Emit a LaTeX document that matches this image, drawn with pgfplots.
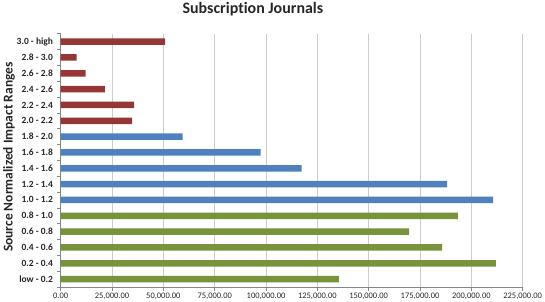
\documentclass[border=0pt]{standalone}
\usepackage{pgfplots}
\pgfplotsset{compat=1.18}
\usepackage{fontspec}
\setmainfont[Ligatures=NoCommon]{Carlito}
\definecolor{cred}{HTML}{953735}
\definecolor{cblue}{HTML}{4F81BD}
\definecolor{cgreen}{HTML}{77933C}
\definecolor{cgrid}{HTML}{CDCDCD}
\definecolor{caxis}{HTML}{868686}
\definecolor{ctext}{HTML}{262626}
\begin{document}
\begin{tikzpicture}
\useasboundingbox (0,0) rectangle (545bp,302bp);
\begin{axis}[
  at={(60.7bp,15bp)}, anchor=south west,
  scale only axis, width=462bp, height=253.3bp,
  xmin=0, xmax=225000, ymin=-0.5, ymax=15.5,
  axis x line*=bottom, axis y line*=left,
  axis line style={caxis, line width=0.6pt},
  xtick={0,25000,...,225000},
  xmajorgrids, major grid style={cgrid, line width=0.6pt},
  ytick={0,...,15},
  yticklabels={low - 0.2,0.2 - 0.4,0.4 - 0.6,0.6 - 0.8,0.8 - 1.0,1.0 - 1.2,1.2 - 1.4,1.4 - 1.6,1.6 - 1.8,1.8 - 2.0,2.0 - 2.2,2.2 - 2.4,2.4 - 2.6,2.6 - 2.8,2.8 - 3.0,3.0 - high},
  minor ytick={-0.5,0.5,...,15.5},
  y tick style={draw=none},
  minor y tick style={draw=caxis, line width=0.6pt},
  x tick style={draw=caxis, line width=0.6pt},
  tick align=outside, major tick length=3.5bp, minor tick length=3.5bp,
  yticklabel style={font=\fontsize{9.5}{11}\selectfont\bfseries, text=ctext, inner sep=0pt, xshift=-4bp},
  xticklabel style={font=\fontsize{8.5}{10}\selectfont, text=ctext, inner sep=0pt, yshift=-2bp},
  /pgf/number format/.cd, fixed, fixed zerofill, precision=2, 1000 sep={,}, assume math mode=true,
  /pgfplots/.cd,
  scaled x ticks=false,
  xbar, bar width=6.5bp,
  title={Subscription Journals},
  every axis title shift=0pt,
  title style={font=\fontsize{16}{18}\selectfont\bfseries, text=ctext, at={(0.416,1.0797)}, anchor=base, inner sep=0pt},
  ylabel={Source Normalized Impact Ranges},
  ylabel style={font=\fontsize{13.5}{15}\selectfont\bfseries, text=ctext, at={(-0.112,0.513)}, anchor=center},
]
\addplot[fill=cgreen, draw=none, bar shift=0pt] coordinates {
(135500,0) (211900,1) (185800,2) (169700,3) (193400,4)};
\addplot[fill=cblue, draw=none, bar shift=0pt] coordinates {
(210600,5) (188250,6) (117340,7) (97330,8) (59350,9)};
\addplot[fill=cred, draw=none, bar shift=0pt] coordinates {
(34840,10) (35780,11) (21560,12) (12190,13) (7800,14) (50900,15)};
\end{axis}
\end{tikzpicture}
\end{document}
